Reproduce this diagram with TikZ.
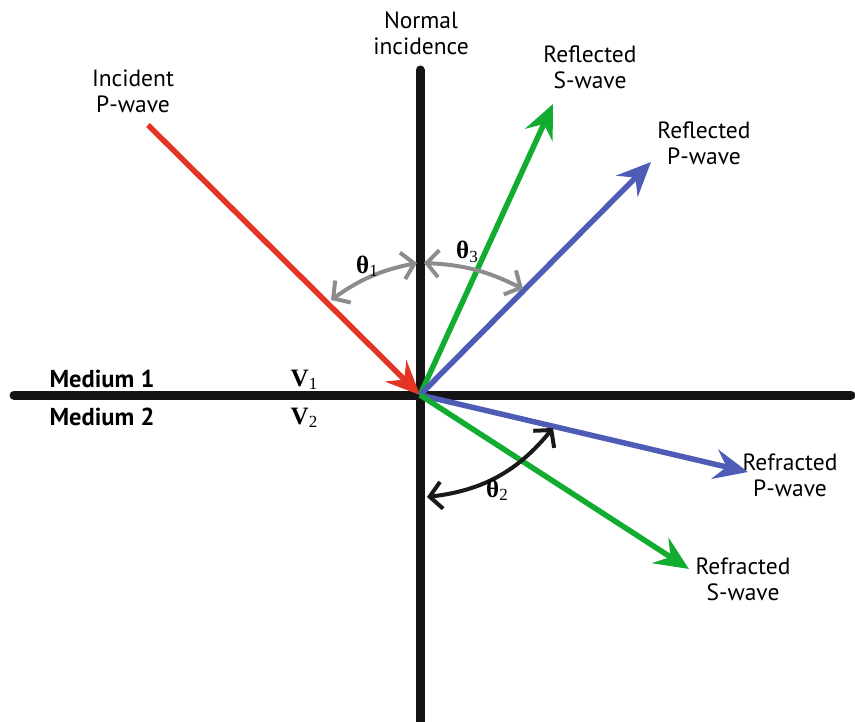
\documentclass[tikz,border=0pt]{standalone}
\usepackage{fontspec}
\setmainfont{PT Sans}
\newfontfamily\tms{Liberation Serif}
\usepackage{xcolor}
\usepackage{tikz}
\usetikzlibrary{arrows.meta,positioning,calc}

\definecolor{wavered}{RGB}{228,52,35}
\definecolor{wavegreen}{RGB}{18,172,48}
\definecolor{waveblue}{RGB}{78,92,182}
\definecolor{anglegray}{RGB}{140,140,140}

\newcommand{\ang}[2]{{\tms\fontsize{25}{25}\selectfont\bfseries #1\raisebox{-0.3ex}{\fontsize{17}{17}\selectfont\mdseries #2}}}

\begin{document}
\begin{tikzpicture}[x=1pt,y=-1pt,>=stealth,
  font=\fontsize{23.5}{26}\selectfont,
  boundary/.style={line width=9pt,black!92,line cap=round},
  wave/.style={line width=5.5pt,-{Stealth[length=34pt,width=30pt,inset=12pt]}},
  anglearc/.style={line width=4pt,{Straight Barb[length=12pt,width=27pt]}-{Straight Barb[length=12pt,width=27pt]}},
  lbl/.style={align=center,inner sep=0pt}]
  \useasboundingbox (0,0) rectangle (855,722);

  \coordinate (O) at (420,395);
  \draw[boundary] (14,395) -- (851,395);
  \draw[boundary] (420,70) -- (420,740);

  \coordinate (inc) at (148,125);
  \coordinate (rs) at (553,104);
  \coordinate (rp) at (651,162);
  \coordinate (tp) at (748,472);
  \coordinate (ts) at (689,569);

  \draw[wave,wavered] (inc) -- (O);
  \draw[wave,wavegreen] (O) -- (rs);
  \draw[wave,waveblue] (O) -- (rp);
  \draw[wave,waveblue] (O) -- (tp);
  \draw[wave,wavegreen] (O) -- (ts);

  \coordinate (a1) at (331,300);
  \coordinate (a2) at (417,263);
  \coordinate (a3) at (424,263);
  \coordinate (a4) at (523,289);
  \coordinate (a5) at (427,497);
  \coordinate (a6) at (553,428);
  \draw[anglearc,anglegray] (a1) to[bend left=12] (a2);
  \draw[anglearc,anglegray] (a3) to[bend left=12] (a4);
  \draw[anglearc,black!90] (a5) to[bend right=22] (a6);

  \node[lbl] (normal) at (421,33) {Normal\\incidence};
  \node[lbl] (incident) at (133,91) {Incident\\P-wave};
  \node[lbl] (reflS) at (590,67) {Reflected\\S-wave};
  \node[lbl] (reflP) at (704,143) {Reflected\\P-wave};
  \node[lbl] (refrP) at (790,475) {Refracted\\P-wave};
  \node[lbl] (refrS) at (743,579) {Refracted\\S-wave};

  \node[lbl,font=\fontsize{24.5}{26}\selectfont\bfseries] (med1) at (102,379) {Medium 1};
  \node[lbl,font=\fontsize{24.5}{26}\selectfont\bfseries] (med2) at (102,417) {Medium 2};
  \node[lbl] (v1) at (304,380) {\ang{V}{1}};
  \node[lbl] (v2) at (304,418) {\ang{V}{2}};
  \node[lbl] (t1) at (367,266) {\ang{θ}{1}};
  \node[lbl] (t3) at (467,252) {\ang{θ}{3}};
  \node[lbl] (t2) at (497,490) {\ang{θ}{2}};
\end{tikzpicture}
\end{document}
